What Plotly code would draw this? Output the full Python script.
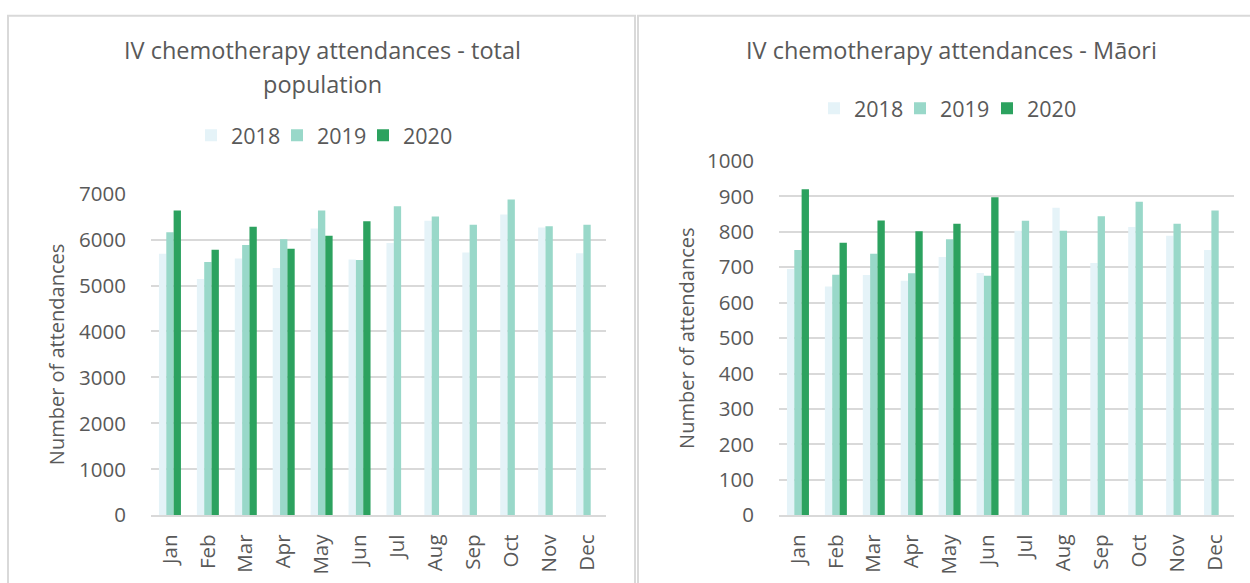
import plotly.graph_objects as go

months = ["Jan", "Feb", "Mar", "Apr", "May", "Jun", "Jul", "Aug", "Sep", "Oct", "Nov", "Dec"]
years = ["2018", "2019", "2020"]

total_2018 = [5690, 5140, 5585, 5380, 6240, 5565, 5925, 6410, 5720, 6545, 6260, 5700]
total_2019 = [6160, 5510, 5880, 6005, 6630, 5555, 6725, 6500, 6320, 6870, 6290, 6320]
total_2020 = [6630, 5780, 6280, 5800, 6080, 6400, None, None, None, None, None, None]

maori_2018 = [695, 646, 678, 662, 729, 684, 803, 868, 712, 814, 789, 749]
maori_2019 = [749, 679, 738, 683, 779, 676, 831, 803, 844, 885, 823, 860]
maori_2020 = [920, 769, 832, 802, 823, 898, None, None, None, None, None, None]

colors = ["#e5f3f8", "#99d8c9", "#2ca25f"]
FONT = "Open Sans"
TXT = "#595959"
GRID = "#d9d9d9"

W, H = 1250, 583
# observed capture mapping: screen_y = 14.7 + 0.952 * figure_y
Y0, YS = 14.7, 0.952
def px(x):
    return x / W
def py(ys):
    return 1 - ((ys - Y0) / YS) / H

fig = go.Figure()

left_leg = ["legend", "legend2", "legend3"]
right_leg = ["legend4", "legend5", "legend6"]
for i, (yr, vals) in enumerate(zip(years, [total_2018, total_2019, total_2020])):
    fig.add_trace(go.Bar(x=months, y=vals, name=yr, marker=dict(color=colors[i], line=dict(width=0)),
                         xaxis="x", yaxis="y", legend=left_leg[i]))
for i, (yr, vals) in enumerate(zip(years, [maori_2018, maori_2019, maori_2020])):
    fig.add_trace(go.Bar(x=months, y=vals, name=yr, marker=dict(color=colors[i], line=dict(width=0)),
                         xaxis="x2", yaxis="y2", legend=right_leg[i]))

TICKSIZE = 20.5
axis_common = dict(tickfont=dict(family=FONT, size=TICKSIZE, color=TXT))
xcommon = dict(type="category", tickangle=-90, showgrid=False, showline=True, linecolor=GRID, linewidth=2,
               ticks="", ticklabelstandoff=9, **axis_common)
ycommon = dict(showgrid=True, gridcolor=GRID, gridwidth=2, showline=False, zeroline=False, ticks="",
               ticklabelstandoff=24, **axis_common)
ytitle_font = dict(family=FONT, size=20, color=TXT)
LEG_FONT = dict(family=FONT, size=21.5, color=TXT)

def leg(text_x, y_center):
    return dict(orientation="h", x=px(text_x - 41), xanchor="left", y=py(y_center), yanchor="middle",
                font=LEG_FONT, itemclick=False, bgcolor="rgba(0,0,0,0)")

fig.update_layout(
    width=W, height=H,
    margin=dict(l=0, r=0, t=0, b=0),
    paper_bgcolor="white", plot_bgcolor="white",
    barmode="group", bargap=0.42, bargroupgap=0,
    font=dict(family=FONT, color=TXT),
    xaxis=dict(domain=[px(151), px(606)], anchor="y", **xcommon),
    yaxis=dict(domain=[py(515), py(193.3)], anchor="x", range=[0, 7000], dtick=1000,
               title=dict(text="Number of attendances", font=ytitle_font, standoff=9),
               **ycommon),
    xaxis2=dict(domain=[px(779), px(1234)], anchor="y2", **xcommon),
    yaxis2=dict(domain=[py(515), py(160.7)], anchor="x2", range=[0, 1000], dtick=100,
                title=dict(text="Number of attendances", font=ytitle_font, standoff=7),
                **ycommon),
    legend=leg(232, 135), legend2=leg(318, 135), legend3=leg(404, 135),
    legend4=leg(855, 108), legend5=leg(941, 108), legend6=leg(1028, 108),
    showlegend=True,
)

TITLE_FONT = dict(family=FONT, size=23.5, color=TXT)
fig.add_annotation(text="IV chemotherapy attendances - total", x=px(322), y=py(50),
                   xref="paper", yref="paper", xanchor="center", yanchor="middle", showarrow=False,
                   font=TITLE_FONT)
fig.add_annotation(text="population", x=px(322), y=py(84),
                   xref="paper", yref="paper", xanchor="center", yanchor="middle", showarrow=False,
                   font=TITLE_FONT)
fig.add_annotation(text="IV chemotherapy attendances - Māori", x=px(951), y=py(50),
                   xref="paper", yref="paper", xanchor="center", yanchor="middle", showarrow=False,
                   font=TITLE_FONT)

# panel borders
fig.add_shape(type="rect", xref="paper", yref="paper", x0=px(8), x1=px(635), y0=-0.05, y1=py(15.5),
              line=dict(color=GRID, width=2), layer="below")
fig.add_shape(type="rect", xref="paper", yref="paper", x0=px(638), x1=px(1270), y0=-0.05, y1=py(15.5),
              line=dict(color=GRID, width=2), layer="below")

post = ("document.documentElement.style.margin='0';document.body.style.margin='0';"
        "document.documentElement.style.overflow='hidden';document.body.style.overflow='hidden';"
        "var gd=document.getElementById('{plot_id}');"
        "if(gd){gd.style.position='fixed';gd.style.top='0px';gd.style.left='0px';}")
fig.write_html("out.html", post_script=post, config={"displayModeBar": False})
